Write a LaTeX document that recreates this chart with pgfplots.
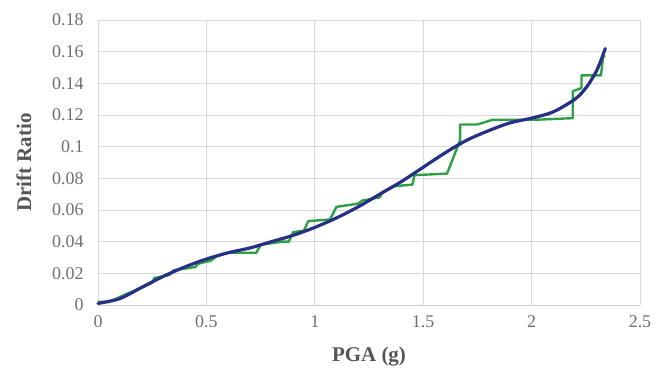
\documentclass[border=0pt]{standalone}
\usepackage{pgfplots}
\pgfplotsset{compat=1.18}
\usepackage{fontspec}
\setmainfont{Liberation Serif}
\definecolor{gridc}{RGB}{217,217,217}
\definecolor{tickc}{RGB}{110,110,110}
\definecolor{labc}{RGB}{85,85,85}
\definecolor{grn}{RGB}{45,160,65}
\definecolor{navy}{RGB}{38,48,135}
\begin{document}
\begin{tikzpicture}
\useasboundingbox (-98bp,-71bp) rectangle (561bp,305bp);
\begin{axis}[
  at={(0,0)}, anchor=south west,
  scale only axis, width=542bp, height=285bp,
  xmin=0, xmax=2.5, ymin=0, ymax=0.18,
  xtick={0,0.5,...,2.5}, ytick={0,0.02,...,0.18},
  xticklabels={0,0.5,1,1.5,2,2.5},
  yticklabels={0,0.02,0.04,0.06,0.08,0.1,0.12,0.14,0.16,0.18},
  grid=major, major grid style={gridc, line width=0.8bp},
  axis line style={draw=none},
  tick style={draw=none},
  ticklabel style={font=\fontsize{18}{20}\selectfont, text=tickc},
  /pgf/number format/assume math mode=true,
  xticklabel style={yshift=-7bp},
  yticklabel style={xshift=-11bp},
  xlabel={\textbf{PGA (g)}}, ylabel={\textbf{Drift Ratio}},
  label style={font=\fontsize{21}{23}\selectfont, text=labc},
  xlabel style={at={(axis description cs:0.5,-0.182)}, anchor=center},
  ylabel style={at={(axis description cs:-0.137,0.5)}, anchor=center},
  clip=false,
]
\draw[gridc!80!black!60, line width=0.8bp] (axis cs:0,0) -- (axis cs:2.5,0);
\addplot[grn, line width=2.4bp, line join=round] coordinates {
(0,0.002) (0.05,0.002) (0.1,0.005) (0.2,0.011) (0.25,0.014) (0.26,0.017)
(0.33,0.019) (0.35,0.022) (0.45,0.024) (0.46,0.026) (0.52,0.028) (0.55,0.031)
(0.6,0.033) (0.73,0.033) (0.75,0.038) (0.85,0.040) (0.88,0.040) (0.9,0.046)
(0.95,0.047) (0.97,0.053) (1.07,0.054) (1.1,0.062) (1.2,0.064) (1.22,0.066)
(1.3,0.068) (1.31,0.071) (1.36,0.075) (1.45,0.076) (1.46,0.082) (1.61,0.083)
(1.67,0.104) (1.67,0.114) (1.75,0.114) (1.82,0.117) (2.02,0.117) (2.19,0.118)
(2.19,0.135) (2.23,0.137) (2.23,0.145) (2.32,0.145) (2.33,0.157) (2.34,0.157)
};
\addplot[navy, line width=3.2bp, smooth, line cap=round] coordinates {
(0,0.001) (0.1,0.004) (0.2,0.011) (0.3,0.018) (0.4,0.024) (0.5,0.029)
(0.6,0.033) (0.7,0.036) (0.8,0.040) (0.9,0.044) (1.0,0.049) (1.1,0.055)
(1.2,0.062) (1.3,0.070) (1.4,0.078) (1.5,0.087) (1.6,0.096) (1.7,0.104)
(1.8,0.110) (1.9,0.115) (2.0,0.118) (2.1,0.122) (2.2,0.130) (2.25,0.137)
(2.3,0.148) (2.34,0.162)
};
\end{axis}
\end{tikzpicture}
\end{document}
